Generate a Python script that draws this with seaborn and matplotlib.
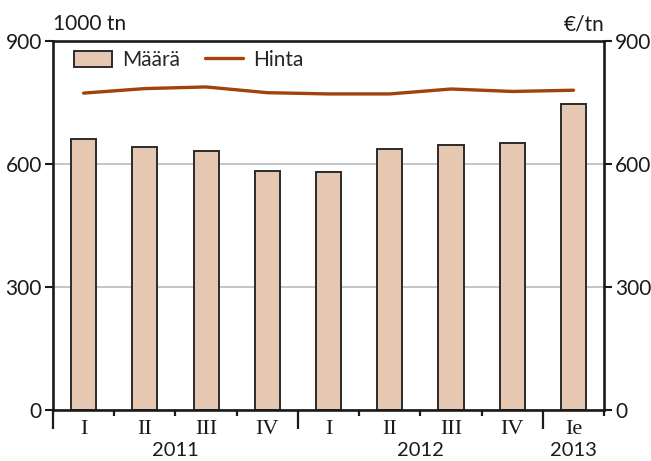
import pandas as pd
import seaborn as sns
import matplotlib
matplotlib.use("Agg")
import matplotlib.pyplot as plt
from matplotlib.patches import Patch
from matplotlib.lines import Line2D

# Neljännekset ja vuodet
quarters = ["I", "II", "III", "IV", "I", "II", "III", "IV", "Ie"]
years = ["2011", "2011", "2011", "2011", "2012", "2012", "2012", "2012", "2013"]
# Määrä (1000 tn) ja hinta (€/tn)
maara = [661, 642, 632, 582, 581, 637, 646, 652, 747]
hinta = [773, 784, 788, 774, 771, 771, 783, 777, 780]
y_ticks = [0, 300, 600, 900]

BAR_COLOR = "#e6c8b2"
LINE_COLOR = "#a3420a"
INK = "#1a1a1a"
SANS = ["Lato", "DejaVu Sans"]
SERIF = ["Liberation Serif", "DejaVu Serif"]
FS = 15

sns.set_style("white")
plt.rcParams["font.family"] = SANS
plt.rcParams["font.size"] = FS

df = pd.DataFrame({
    "jakso": [f"{y} {q}" for y, q in zip(years, quarters)],
    "maara": maara,
    "hinta": hinta,
})
df["pos"] = range(len(df))

fig = plt.figure(figsize=(6.51, 4.61), dpi=100)
ax = fig.add_axes([0.0814, 0.1106, 0.8466, 0.8004])

sns.barplot(data=df, x="jakso", y="maara", color=BAR_COLOR, saturation=1,
            edgecolor="#2b2b2b", linewidth=1.4, width=0.41, ax=ax, zorder=2)

ax.set_xlim(-0.5, len(df) - 0.5)
ax.set_ylim(0, 900)
ax.set_yticks(y_ticks)
ax.set_xlabel("")
ax.set_ylabel("")
ax.set_axisbelow(True)
ax.yaxis.grid(True, color="#b5b5b5", linewidth=1.1)

for s in ax.spines.values():
    s.set_color(INK)
    s.set_linewidth(1.9)

ax.tick_params(axis="y", direction="out", length=6, width=1.5, pad=2,
               colors=INK, labelsize=FS, left=True)

# x-akselin rajat: pitkät viivat vuosien välissä, lyhyet neljännesten välissä
n = len(df)
year_edges = [-0.5] + [i + 0.5 for i in range(n - 1) if years[i] != years[i + 1]]
ax.set_xticks(year_edges)
ax.set_xticks([i - 0.5 for i in range(n + 1)], minor=True)
ax.set_xticklabels([])
ax.tick_params(axis="x", which="major", direction="out", length=14, width=1.6,
               colors=INK, bottom=True)
ax.tick_params(axis="x", which="minor", direction="out", length=4.5, width=1.6,
               colors=INK, bottom=True)

tr = ax.get_xaxis_transform()
for i, q in enumerate(quarters):
    ax.text(i, -0.054, q, transform=tr, ha="center", va="center",
            family=SERIF, fontsize=16, color=INK)
for yr in dict.fromkeys(years):
    idx = [i for i, y in enumerate(years) if y == yr]
    ax.text(sum(idx) / len(idx), -0.111, yr, transform=tr, ha="center",
            va="center", fontsize=14.5, color=INK)

# oikea akseli hinnalle
ax2 = ax.twinx()
sns.lineplot(data=df, x="pos", y="hinta", color=LINE_COLOR, linewidth=2.4,
             ax=ax2, zorder=3)
ax2.set_ylim(0, 900)
ax2.set_xlim(-0.5, n - 0.5)
ax2.set_yticks(y_ticks)
ax2.set_xlabel("")
ax2.set_ylabel("")
for s in ax2.spines.values():
    s.set_visible(False)
ax2.tick_params(axis="y", direction="out", length=6, width=1.5, pad=2,
                colors=INK, labelsize=FS, right=True)

ax.text(0, 1.046, "1000 tn", transform=ax.transAxes, ha="left", va="center",
        fontsize=FS, color=INK)
ax.text(1.0, 1.046, "€/tn", transform=ax.transAxes, ha="right", va="center",
        fontsize=FS, color=INK)

handles = [
    Patch(facecolor=BAR_COLOR, edgecolor="#2b2b2b", linewidth=1.4),
    Line2D([0], [0], color=LINE_COLOR, linewidth=2.4),
]
ax2.legend(handles, ["Määrä", "Hinta"], loc="center left", ncol=2,
           frameon=False, bbox_to_anchor=(0.012, 0.948), handlelength=1.8,
           handleheight=0.85, columnspacing=1.2, handletextpad=0.5,
           fontsize=FS, borderpad=0.2, borderaxespad=0.5)

fig.savefig("out.png", dpi=100)
